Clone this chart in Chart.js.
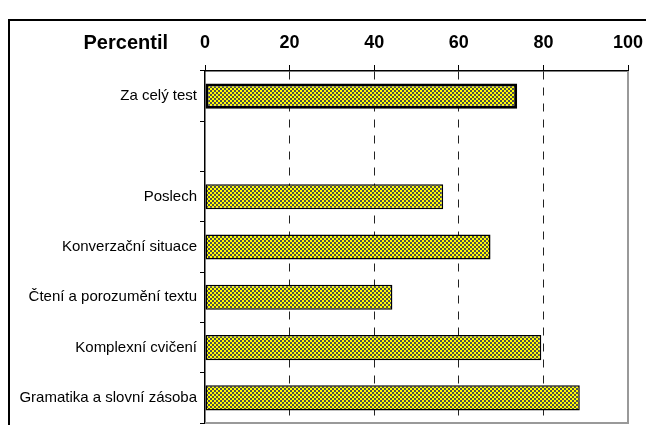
<!DOCTYPE html>
<html>
<head>
<meta charset="utf-8">
<script src="https://cdn.jsdelivr.net/npm/chart.js@4.4.1/dist/chart.umd.min.js"></script>
<style>
  html, body { margin: 0; padding: 0; background: #fff; overflow: hidden; }
  #wrap { position: relative; width: 646px; height: 425px; }
  #frame { position: absolute; left: 8px; top: 19px; width: 700px; height: 500px; border: 2px solid #000; }
  canvas { position: absolute; left: 0; top: 0; }
</style>
</head>
<body>
<div id="wrap">
  <div id="frame"></div>
  <canvas id="chart" width="646" height="425"></canvas>
</div>
<script>
const categories = ['Za celý test', '', 'Poslech', 'Konverzační situace', 'Čtení a porozumění textu', 'Komplexní cvičení', 'Gramatika a slovní zásoba'];
const percentiles = [73.8, null, 56.3, 67.5, 44.3, 79.5, 88.6];
const barBorders = [3, 0, 1.5, 1.5, 1.5, 1.5, 1.5];
const xMin = 0;
const xMax = 100;
const xStep = 20;
const axisTitle = 'Percentil';

// small yellow / dark grey checker like the Excel fill
function checkerFill() {
  const tile = document.createElement('canvas');
  tile.width = 4;
  tile.height = 4;
  const g = tile.getContext('2d');
  g.fillStyle = '#ffff00';
  g.fillRect(0, 0, 4, 4);
  g.fillStyle = '#4d4d4d';
  g.fillRect(0, 0, 2, 2);
  g.fillRect(2, 2, 2, 2);
  return g.createPattern(tile, 'repeat');
}

const plotFrame = {
  id: 'plotFrame',
  afterDatasetsDraw(chart) {
    const { ctx, chartArea: a, scales } = chart;
    ctx.save();
    ctx.strokeStyle = '#999';
    ctx.lineWidth = 2;
    ctx.beginPath();
    ctx.moveTo(a.right, a.top);
    ctx.lineTo(a.right, a.bottom);
    ctx.lineTo(a.left, a.bottom);
    ctx.stroke();

    const xs = scales.x;
    ctx.fillStyle = '#000';
    ctx.font = 'bold 20px "Liberation Sans", Arial, sans-serif';
    ctx.textAlign = 'right';
    ctx.textBaseline = 'middle';
    ctx.fillText(axisTitle, a.left - 37, xs.bottom - 6 - 11 - 10.8);
    ctx.restore();
  }
};

const ctx = document.getElementById('chart').getContext('2d');

new Chart(ctx, {
  type: 'bar',
  data: {
    labels: categories,
    datasets: [{
      data: percentiles,
      backgroundColor: checkerFill(),
      borderColor: '#000',
      borderWidth: barBorders,
      borderSkipped: false,
      barPercentage: 0.5,
      categoryPercentage: 1,
    }],
  },
  options: {
    indexAxis: 'y',
    responsive: false,
    animation: false,
    devicePixelRatio: 1,
    layout: { padding: { left: 0, top: 0, right: 18, bottom: 2 } },
    plugins: {
      legend: { display: false },
      tooltip: { enabled: false },
    },
    scales: {
      x: {
        type: 'linear',
        position: 'top',
        min: xMin,
        max: xMax,
        ticks: {
          stepSize: xStep,
          color: '#000',
          padding: 11,
          font: { family: '"Liberation Sans", Arial, sans-serif', size: 18, weight: 'bold' },
        },
        grid: {
          color: (c) => (c.tick && (c.tick.value === xMin || c.tick.value === xMax)) ? 'rgba(0,0,0,0)' : '#222',
          tickColor: '#000',
          tickLength: 6,
          lineWidth: 1,
        },
        border: { color: '#000', width: 1.5, dash: [8, 8] },
        afterFit: (scale) => {
          scale.height = 71;
          scale.paddingLeft = 0;
          scale.paddingRight = 0;
        },
      },
      y: {
        type: 'category',
        ticks: {
          color: '#000',
          padding: 3,
          font: { family: '"Liberation Sans", Arial, sans-serif', size: 15 },
        },
        grid: {
          drawOnChartArea: false,
          offset: true,
          color: '#000',
          tickLength: 5,
        },
        border: { color: '#000', width: 1.5 },
        afterFit: (scale) => {
          scale.width = 205;
          scale.paddingTop = 0;
          scale.paddingBottom = 0;
        },
      },
    },
  },
  plugins: [plotFrame],
});
</script>
</body>
</html>
